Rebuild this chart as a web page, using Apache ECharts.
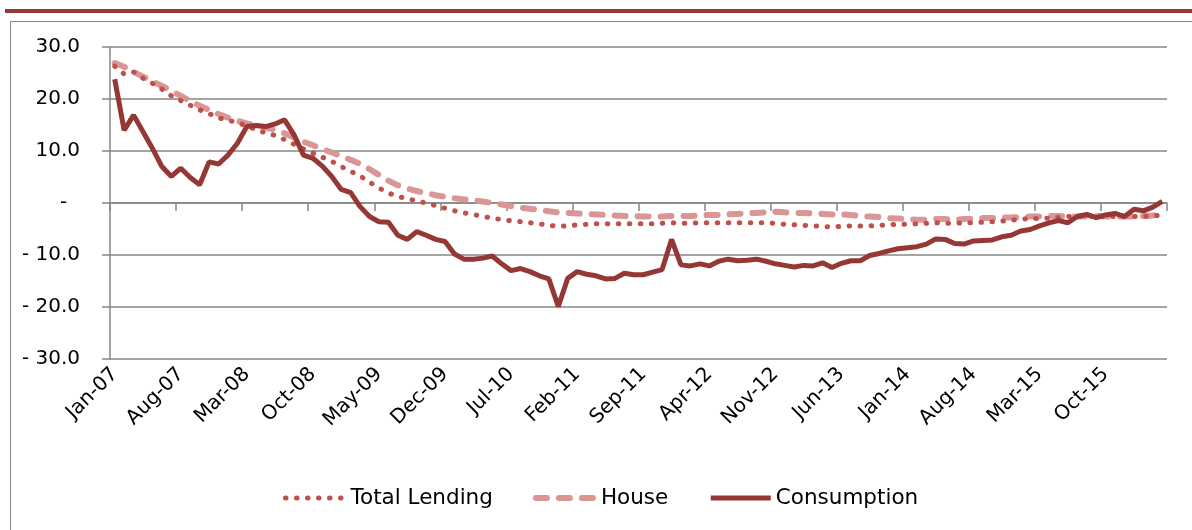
<!DOCTYPE html>
<html lang="en">
<head>
    <meta charset="UTF-8">
    <title>Lending growth</title>
    <script src="https://cdn.jsdelivr.net/npm/echarts@6/dist/echarts.min.js"></script>
    <style>
        html, body { margin: 0; padding: 0; background: #fff; }
    </style>
</head>
<body>
    <div id="chart" style="width: 1192px; height: 530px;"></div>
    <script>
    // month labels Jan-07 .. Apr-16
    var monthNames = ['Jan','Feb','Mar','Apr','May','Jun','Jul','Aug','Sep','Oct','Nov','Dec'];
    var years = ['07','08','09','10','11','12','13','14','15','16'];
    var months = [];
    for (var y = 0; y < years.length; y++) {
        for (var m = 0; m < 12; m++) {
            if (years[y] === '16' && m > 3) break;
            months.push(monthNames[m] + '-' + years[y]);
        }
    }

    var yTicks = [-30, -20, -10, 0, 10, 20, 30];

    var totalLending = [
        26.3, 24.8, 25.2, 24.0, 23.0, 21.9, 20.6, 19.7, 18.8, 17.9, 17.2, 16.4,
        15.9, 15.5, 14.8, 14.1, 13.5, 13.0, 12.2, 11.3, 10.4, 9.6, 8.8, 8.0,
        7.0, 6.1, 5.2, 4.0, 2.9, 1.9, 1.3, 0.8, 0.4, 0.0, -0.5, -1.0,
        -1.5, -1.9, -2.2, -2.6, -2.9, -3.2, -3.4, -3.6, -3.8, -4.0, -4.3, -4.5,
        -4.4, -4.2, -4.1, -4.0, -4.0, -4.0, -4.0, -4.0, -4.0, -4.0, -3.9, -3.8,
        -3.9, -3.9, -3.8, -3.8, -3.8, -3.8, -3.8, -3.8, -3.8, -3.8, -3.9, -4.1,
        -4.2, -4.3, -4.4, -4.5, -4.6, -4.5, -4.4, -4.4, -4.4, -4.3, -4.2, -4.1,
        -4.1, -4.0, -3.9, -3.8, -3.9, -3.9, -3.8, -3.8, -3.7, -3.6, -3.5, -3.3,
        -3.1, -3.0, -3.0, -2.9, -2.8, -2.6, -2.5, -2.5, -2.6, -2.6, -2.6, -2.6,
        -2.6, -2.6, -2.5, -2.3
    ];

    var house = [
        26.9, 26.2, 25.2, 24.3, 23.4, 22.5, 21.6, 20.6, 19.6, 18.7, 17.9, 17.1,
        16.4, 15.8, 15.3, 14.9, 14.5, 14.1, 13.4, 12.6, 11.8, 11.1, 10.4, 9.7,
        9.0, 8.3, 7.5, 6.5, 5.4, 4.3, 3.4, 2.8, 2.3, 1.9, 1.5, 1.2,
        0.9, 0.7, 0.5, 0.3, 0.0, -0.3, -0.6, -0.9, -1.1, -1.3, -1.6, -1.8,
        -1.9, -2.0, -2.1, -2.2, -2.3, -2.4, -2.5, -2.5, -2.6, -2.6, -2.6, -2.5,
        -2.5, -2.5, -2.4, -2.3, -2.3, -2.2, -2.1, -2.0, -1.9, -1.8, -1.7, -1.8,
        -1.9, -1.9, -2.0, -2.1, -2.2, -2.2, -2.3, -2.5, -2.6, -2.7, -2.9, -3.0,
        -3.1, -3.2, -3.2, -3.1, -3.1, -3.2, -3.1, -3.0, -2.9, -2.9, -2.8, -2.8,
        -2.7, -2.6, -2.6, -2.5, -2.5, -2.6, -2.6, -2.6, -2.5, -2.6, -2.6, -2.6,
        -2.6, -2.5, -2.4, -2.2
    ];

    var consumption = [
        23.8, 14.0, 16.9, 13.7, 10.5, 7.0, 5.1, 6.7, 4.9, 3.5, 7.9, 7.5,
        9.2, 11.5, 14.7, 14.9, 14.7, 15.2, 16.0, 13.1, 9.2, 8.6, 7.1, 5.1,
        2.6, 2.0, -0.7, -2.6, -3.6, -3.7, -6.2, -7.0, -5.5, -6.2, -7.0, -7.4,
        -9.8, -10.8, -10.8, -10.6, -10.2, -11.7, -13.0, -12.6, -13.2, -14.0, -14.6, -19.9,
        -14.5, -13.2, -13.7, -14.0, -14.6, -14.5, -13.5, -13.8, -13.8, -13.3, -12.8, -7.0,
        -11.9, -12.1, -11.7, -12.1, -11.2, -10.8, -11.1, -11.0, -10.8, -11.2, -11.7, -12.0,
        -12.3, -12.0, -12.1, -11.5, -12.4, -11.6, -11.1, -11.1, -10.1, -9.7, -9.2, -8.8,
        -8.6, -8.4, -7.9, -6.9, -7.0, -7.8, -7.9, -7.3, -7.2, -7.1, -6.5, -6.2,
        -5.4, -5.1, -4.4, -3.8, -3.4, -3.8, -2.6, -2.2, -2.8, -2.3, -2.0, -2.6,
        -1.2, -1.5, -0.8, 0.3
    ];

    var FONT = 'DejaVu Sans';
    var GRID_GRAY = '#868686';

    // line styles shared by the series and their legend icons
    var lendingLine = { color: '#C0504D', width: 5, type: [0.5, 10.5], cap: 'round' };
    var houseLine = { color: '#D99694', width: 6, type: [11, 12], cap: 'round' };
    var consumptionLine = { color: '#953735', width: 5 };

    var myChart = echarts.init(document.getElementById('chart'));

    function yLabel(v) {
        if (v === 0) return '-  ';
        if (v < 0) return '- ' + Math.abs(v).toFixed(1);
        return v.toFixed(1);
    }

    var option = {
        animation: false,
        backgroundColor: '#fff',
        graphic: [
            // dark red rule across the top
            {
                type: 'line',
                shape: { x1: 5, y1: 11, x2: 1192, y2: 11 },
                style: { stroke: '#953735', lineWidth: 4 }
            },
            // chart area border
            {
                type: 'rect',
                shape: { x: 10.5, y: 21.5, width: 1200, height: 540 },
                style: { fill: 'none', stroke: GRID_GRAY, lineWidth: 1 }
            }
        ],
        grid: {
            left: 110,
            right: 25,
            top: 47,
            bottom: 171
        },
        legend: {
            left: 278,
            top: 482,
            itemWidth: 60,
            itemHeight: 12,
            itemGap: 40,
            itemStyle: { opacity: 0 },
            textStyle: { fontFamily: FONT, fontSize: 21.5, color: '#000' },
            data: [
                { name: 'Total Lending', lineStyle: lendingLine },
                { name: 'House', lineStyle: houseLine },
                { name: 'Consumption', lineStyle: consumptionLine }
            ]
        },
        xAxis: [
            {
                // axis line and ticks sit on the zero line
                type: 'category',
                data: months,
                boundaryGap: true,
                axisLine: { onZero: true, lineStyle: { color: GRID_GRAY, width: 1.5 } },
                axisTick: { show: true, interval: 6, length: 8, lineStyle: { color: GRID_GRAY, width: 1.5 } },
                axisLabel: { show: false },
                splitLine: { show: false }
            },
            {
                // labels at the bottom
                type: 'category',
                data: months,
                position: 'bottom',
                boundaryGap: true,
                axisLine: { show: false, onZero: false },
                axisTick: { show: false },
                axisLabel: {
                    interval: 6,
                    rotate: 45,
                    margin: 12,
                    fontFamily: FONT,
                    fontSize: 20,
                    color: '#000'
                },
                splitLine: { show: false }
            }
        ],
        yAxis: {
            type: 'value',
            min: yTicks[0],
            max: yTicks[yTicks.length - 1],
            interval: 10,
            axisLine: { show: true, lineStyle: { color: GRID_GRAY, width: 1.5 } },
            axisTick: { show: true, length: 8, lineStyle: { color: GRID_GRAY, width: 1.5 } },
            axisLabel: {
                margin: 30,
                fontFamily: FONT,
                fontSize: 20,
                color: '#000',
                formatter: yLabel
            },
            splitLine: { show: true, lineStyle: { color: GRID_GRAY, width: 1.5 } }
        },
        series: [
            {
                name: 'Total Lending',
                type: 'line',
                xAxisIndex: 0,
                data: totalLending,
                symbol: 'none',
                z: 3,
                lineStyle: lendingLine,
                itemStyle: { color: lendingLine.color }
            },
            {
                name: 'House',
                type: 'line',
                xAxisIndex: 0,
                data: house,
                symbol: 'none',
                z: 2,
                lineStyle: houseLine,
                itemStyle: { color: houseLine.color }
            },
            {
                name: 'Consumption',
                type: 'line',
                xAxisIndex: 0,
                data: consumption,
                symbol: 'none',
                z: 4,
                lineStyle: consumptionLine,
                itemStyle: { color: consumptionLine.color }
            }
        ]
    };

    myChart.setOption(option);
    </script>
</body>
</html>
